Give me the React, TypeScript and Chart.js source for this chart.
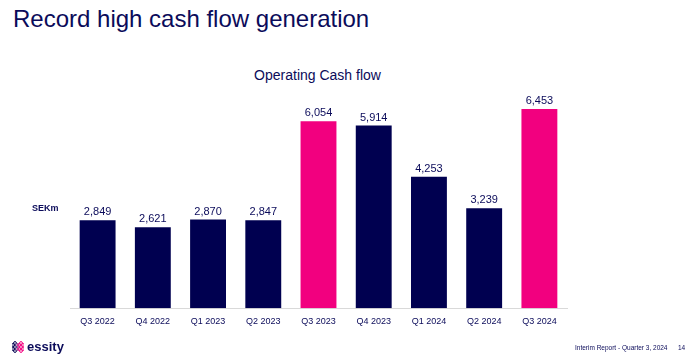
import React, { useEffect, useRef } from "react";
import { Chart, registerables } from "chart.js";

Chart.register(...registerables);

const categories = ["Q3 2022", "Q4 2022", "Q1 2023", "Q2 2023", "Q3 2023", "Q4 2023", "Q1 2024", "Q2 2024", "Q3 2024"];
const cashFlow = [2849, 2621, 2870, 2847, 6054, 5914, 4253, 3239, 6453];
const highlighted = [false, false, false, false, true, false, false, false, true];

const NAVY = "#000050";
const PINK = "#f2007f";
const TEXT = "#0b0b5a";
const FONT = "'Liberation Sans', Arial, sans-serif";

const valueLabels = {
  id: "valueLabels",
  afterDatasetsDraw(chart: any) {
    const ctx = chart.ctx;
    const meta = chart.getDatasetMeta(0);
    ctx.save();
    ctx.font = `11px ${FONT}`;
    ctx.fillStyle = TEXT;
    ctx.textAlign = "center";
    ctx.textBaseline = "alphabetic";
    meta.data.forEach((bar: any, i: number) => {
      const v = chart.data.datasets[0].data[i] as number;
      ctx.fillText(v.toLocaleString("en-US"), bar.x, bar.y - 5);
    });
    ctx.restore();
  },
};

export default function App() {
  const ref = useRef<HTMLCanvasElement>(null);
  useEffect(() => {
    const chart = new Chart(ref.current!, {
      type: "bar",
      data: {
        labels: categories,
        datasets: [
          {
            data: cashFlow,
            backgroundColor: highlighted.map((h) => (h ? PINK : NAVY)),
            categoryPercentage: 1,
            barPercentage: 0.65,
          },
        ],
      },
      options: {
        responsive: false,
        animation: false,
        devicePixelRatio: 1,
        layout: { padding: { left: 70, right: 123, top: 92, bottom: 31 } },
        plugins: { legend: { display: false }, tooltip: { enabled: false }, title: { display: false } },
        scales: {
          x: {
            grid: { display: false },
            border: { display: true, color: "#d9d9d9", width: 1 },
            ticks: { color: TEXT, font: { size: 9, family: FONT }, padding: 0 },
          },
          y: { display: false, min: 0, max: 7000 },
        },
      },
      plugins: [valueLabels],
    });
    return () => chart.destroy();
  }, []);

  return (
    <div style={{ position: "fixed", left: 0, top: 0, width: 690, height: 358, background: "#fff", fontFamily: FONT, color: TEXT, overflow: "hidden" }}>
      <div style={{ position: "absolute", left: 13, top: 2, fontSize: 24, lineHeight: "34px", color: TEXT, whiteSpace: "nowrap" }}>
        Record high cash flow generation
      </div>
      <div style={{ position: "absolute", left: 0, width: 635, top: 66, textAlign: "center", fontSize: 14, lineHeight: "18px", whiteSpace: "nowrap" }}>
        Operating Cash flow
      </div>
      <canvas ref={ref} width={690} height={358} style={{ position: "absolute", left: 0, top: 0 }} />
      <div style={{ position: "absolute", left: 32, top: 203, fontSize: 9, fontWeight: "bold", lineHeight: "11px" }}>SEKm</div>
      <div style={{ position: "absolute", left: 12, top: 339, display: "flex", alignItems: "center" }}>
        <svg width="12" height="14" viewBox="0 0 12 14">
          {[
            [3, 3, NAVY], [3, 7, NAVY], [3, 11, NAVY], [1, 5, NAVY], [1, 9, NAVY], [5, 5, "#6a3d8a"], [5, 9, "#6a3d8a"],
            [7, 5, PINK], [7, 9, PINK], [9, 3, PINK], [9, 7, PINK], [9, 11, PINK], [11, 5, PINK], [11, 9, PINK],
          ].map(([cx, cy, c], i) => (
            <circle key={i} cx={cx as number} cy={cy as number} r={1.4} fill="none" stroke={c as string} strokeWidth={1} />
          ))}
        </svg>
        <span style={{ marginLeft: 3, fontSize: 13, fontWeight: "bold", lineHeight: "16px" }}>essity</span>
      </div>
      <div style={{ position: "absolute", left: 575, top: 343, fontSize: 6.5, lineHeight: "9px", whiteSpace: "nowrap" }}>
        Interim Report - Quarter 3, 2024
      </div>
      <div style={{ position: "absolute", left: 678, top: 343, fontSize: 6.5, lineHeight: "9px" }}>14</div>
    </div>
  );
}
